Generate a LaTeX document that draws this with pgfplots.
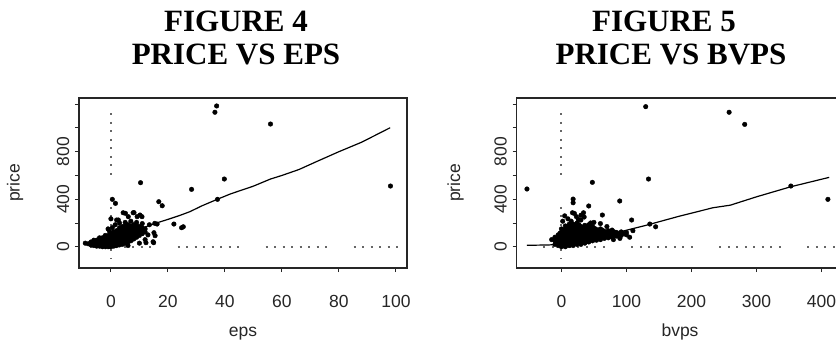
\documentclass[border=0pt]{standalone}
\usepackage{pgfplots}
\pgfplotsset{compat=1.18}
\usepackage{fontspec}
\setmainfont{Liberation Sans}
\newfontfamily\titlefont{Liberation Serif}

\pgfplotsset{
 myaxis/.style={
  scale only axis, height=170bp,
  ymin=-179, ymax=1252,
  axis line style={black!85, line width=1.3bp},
  tick style={black!85, line width=0.9bp},
  tick align=outside, major tick length=4bp,
  xtick pos=left, ytick pos=left,
  ytick={0,200,...,1200}, yticklabels={0,,400,,800,,},
  /pgf/number format/assume math mode=true,
  tick label style={font=\fontsize{17.5bp}{18bp}\selectfont, text=black!85},
  xticklabel style={anchor=base, yshift=-35bp},
  yticklabel style={anchor=base, xshift=-6bp, rotate=90},
  clip=false,
 },
 pts/.style={only marks, mark=*, mark size=2.3bp, black},
 hdots/.style={black!60, line width=2bp, line cap=butt,
   dash pattern=on 2bp off 6.5bp on 2bp off 6.5bp on 2bp off 6.5bp on 2bp off 6.5bp on 2bp off 6.5bp on 2bp off 6.5bp on 2bp off 6.5bp on 2bp off 26.5bp},
 vdots/.style={black!60, line width=2bp, line cap=butt,
   dash pattern=on 2bp off 6.5bp on 2bp off 6.5bp on 2bp off 6.5bp on 2bp off 6.5bp on 2bp off 6.5bp on 2bp off 6.5bp on 2bp off 6.5bp on 2bp off 32bp},
 fit/.style={black, line width=1.2bp},
}

\begin{document}
\begin{tikzpicture}
\useasboundingbox (0,0) rectangle (836bp,343bp);

% Titles
\node[font=\titlefont\bfseries\fontsize{31bp}{31bp}\selectfont, anchor=base] at (236bp,311bp) {FIGURE 4};
\node[font=\titlefont\bfseries\fontsize{31bp}{31bp}\selectfont, anchor=base] at (236bp,278bp) {PRICE VS EPS};
\node[font=\titlefont\bfseries\fontsize{31bp}{31bp}\selectfont, anchor=base] at (664bp,311bp) {FIGURE 5};
\node[font=\titlefont\bfseries\fontsize{31bp}{31bp}\selectfont, anchor=base] at (671bp,278bp) {PRICE VS BVPS};

% Axis labels
\node[font=\fontsize{17.5bp}{18bp}\selectfont, text=black!85, anchor=base] at (243bp,7bp) {eps};
\node[font=\fontsize{17.5bp}{18bp}\selectfont, text=black!85, anchor=base] at (680bp,7bp) {bvps};
\node[font=\fontsize{17.5bp}{18bp}\selectfont, text=black!85, anchor=base, rotate=90] at (19.5bp,160bp) {price};
\node[font=\fontsize{17.5bp}{18bp}\selectfont, text=black!85, anchor=base, rotate=90] at (460bp,160bp) {price};

% ---------- Left: price vs eps ----------
\begin{axis}[myaxis, at={(79bp,75bp)}, anchor=south west, width=328bp,
  xmin=-11.2, xmax=103.9, xtick={0,20,...,100}]
\addplot[hdots] coordinates {(-7.5,0) (100.7,0)};
\addplot[vdots] coordinates {(0,1123) (0,-98)};
\addplot[pts] coordinates {
(-8,25) (-7,15) (-7,40) (-6,10) (-6,35) (-6,55) (-5,5) (-5,30) (-5,55)
(-4,5) (-4,30) (-4,55) (-4,75) (-3,0) (-3,25) (-3,50) (-3,75)
(-2,0) (-2,25) (-2,50) (-2,75) (-2,95) (-1,0) (-1,20) (-1,45) (-1,70) (-1,95)
(0,0) (0,20) (0,40) (0,60) (0,85) (0,110)
(1,5) (1,25) (1,50) (1,75) (1,100) (1,125)
(2,10) (2,35) (2,60) (2,85) (2,110) (2,135)
(3,15) (3,40) (3,65) (3,90) (3,115) (3,140) (3,160)
(4,20) (4,45) (4,70) (4,95) (4,120) (4,145) (4,170)
(5,30) (5,55) (5,80) (5,105) (5,130) (5,155) (5,175)
(6,40) (6,65) (6,90) (6,115) (6,140) (6,165) (6,185)
(7,50) (7,75) (7,100) (7,125) (7,150) (7,175)
(8,65) (8,90) (8,115) (8,140) (8,165) (8,185)
(9,80) (9,105) (9,130) (9,155) (9,180)
(10,95) (10,120) (10,145) (10,170)
(11,110) (11,135) (11,160) (12,125) (12,150)
(0.5,10) (0.5,50) (0.5,90) (2.5,20) (2.5,70) (2.5,120) (4.5,30) (4.5,100) (4.5,160)
(6.5,60) (6.5,130) (8.5,100) (8.5,150)
(-5.5,20) (-3.5,40) (-1.5,35) (-1.5,60) (1.5,40) (3.5,55) (3.5,105) (5.5,70) (7.5,90) (9.5,120) (10.5,150)
(-9,30) (-0.5,130) (0.5,160) (1.5,185) (3,200) (5,205) (7,215) (9,205) (11,195)
(13.5,185) (13,100) (12,60) (10,30) (6,10) (-1,150) (0,235) (2,225)
(0.5,399) (1.6,365) (4.3,286) (7.8,286) (10.2,267) (6.1,253) (5.1,281) (2.6,225)
(9.2,253) (10.9,253) (8.1,287) (15.4,197) (16.2,191) (22.1,191) (25.4,168) (24.8,160)
(15.1,118) (15.5,93) (15,34) (12.3,34) (14.8,42) (16.8,379) (18,345) (10.4,539)
(28.3,483) (37.4,399) (39.8,570) (36.5,1132) (37.1,1185) (56,1033) (98.1,511)
};
\addplot[fit] coordinates {
(-8,15) (-4,30) (0,55) (4,95) (8,135) (12.5,170) (16,200) (20,230) (24,262)
(27.7,295) (32,345) (37.4,400) (42,445) (50,510) (56,570) (60,600) (66,650)
(72,715) (80,800) (88,880) (98,1002)
};
\end{axis}

% ---------- Right: price vs bvps ----------
\begin{axis}[myaxis, at={(516.7bp,75bp)}, anchor=south west, width=324.2bp,
  xmin=-68.8, xmax=430, xtick={0,100,...,400}]
\addplot[hdots] coordinates {(-27.7,0) (430,0)};
\addplot[vdots] coordinates {(0,1123) (0,-98)};
\addplot[pts] coordinates {
(-10,20) (-10,50) (-10,80) (-5,10) (-5,40) (-5,70) (-5,100)
(0,0) (0,30) (0,60) (0,90) (0,120) (0,150)
(6,0) (6,30) (6,60) (6,90) (6,120) (6,150) (6,175)
(12,10) (12,40) (12,70) (12,100) (12,130) (12,160) (12,190)
(18,10) (18,40) (18,70) (18,100) (18,130) (18,160) (18,190)
(24,20) (24,50) (24,80) (24,110) (24,140) (24,170) (24,200)
(30,20) (30,50) (30,80) (30,110) (30,140) (30,170)
(36,30) (36,60) (36,90) (36,120) (36,150) (36,180)
(42,40) (42,70) (42,100) (42,130) (42,160) (42,185)
(48,50) (48,80) (48,110) (48,140) (48,170)
(54,55) (54,85) (54,115) (54,145)
(60,60) (60,90) (60,120) (60,150)
(66,70) (66,100) (66,130) (72,75) (72,105) (72,135) (78,80) (78,110) (78,140)
(85,90) (85,120) (92,95) (92,125) (100,100) (100,120)
(3,15) (3,75) (3,135) (9,45) (9,105) (9,165) (15,25) (15,85) (15,145)
(21,55) (21,115) (21,175) (27,35) (27,95) (27,155) (33,65) (33,125)
(39,45) (39,105) (39,165) (45,85) (45,145) (51,95) (51,125)
(-7,35) (-7,65) (-2,25) (-2,55) (-2,85) (-2,115) (3,45) (3,105)
(9,15) (9,75) (9,135) (15,55) (15,115) (15,175) (21,25) (21,85) (21,145)
(27,65) (27,125) (27,185) (33,35) (33,95) (33,155) (39,75) (39,135)
(45,55) (45,115) (45,170) (51,65) (51,155) (57,75) (57,105) (57,135)
(63,80) (63,110) (63,140) (69,85) (69,115) (75,90) (75,120) (81,95) (81,125)
(88,105) (96,110)
(-15,60) (2,215) (10,235) (5,260) (30,225) (50,205) (60,195) (70,170) (80,60)
(90,70) (105,80) (110,135) (20,280) (35,250) (26,230) (15,215) (45,200)
(-53,486) (129.7,1179) (258,1132) (282,1030) (134,570) (47.6,542) (89.7,385)
(108,225) (63,267) (42,343) (18,401) (18,370) (145,168) (136,191) (353,511)
(410,399) (17,286) (34,286) (23,253) (30,265)
};
\addplot[fit] coordinates {
(-53,12) (-20,15) (0,20) (20,45) (50,85) (90,125) (130,180) (180,255)
(233,328) (260,350) (300,420) (353,505) (412,584)
};
\end{axis}
\end{tikzpicture}
\end{document}
